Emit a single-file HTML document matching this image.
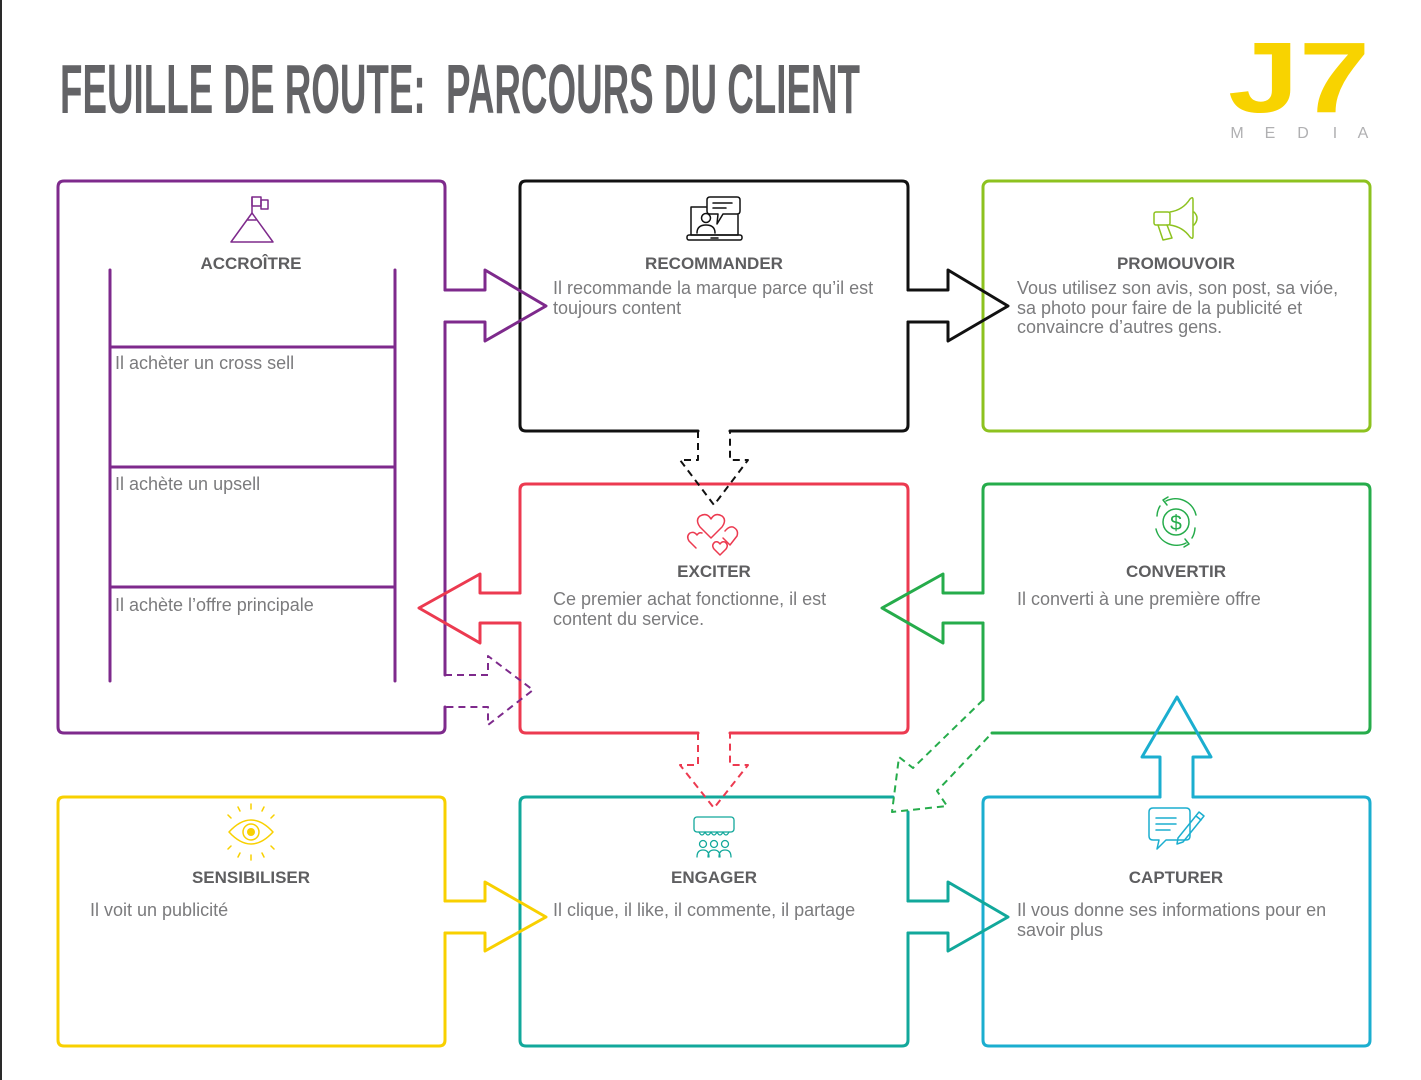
<!DOCTYPE html>
<html><head><meta charset="utf-8">
<style>
html,body{margin:0;padding:0;background:#fff;}
svg{display:block;}
text{font-family:"Liberation Sans",Arial,sans-serif;}
.h{font-weight:bold;font-size:17px;fill:#5e5e60;text-anchor:middle;}
.b{font-size:18px;fill:#7b7b7d;}
</style></head>
<body>
<svg width="1421" height="1080" viewBox="0 0 1421 1080" xmlns="http://www.w3.org/2000/svg">
<rect x="0" y="0" width="1421" height="1080" fill="#fff"/>
<rect x="0" y="0" width="2" height="1080" fill="#2a2a2a"/>

<!-- Title -->
<text x="60" y="113" font-size="70" font-weight="bold" fill="#636366" xml:space="preserve" style="white-space:pre" textLength="800" lengthAdjust="spacingAndGlyphs">FEUILLE DE ROUTE:  PARCOURS DU CLIENT</text>

<!-- Logo -->
<text x="1228" y="112" font-size="100" font-weight="bold" fill="#F8D300" textLength="142" lengthAdjust="spacingAndGlyphs">J7</text>
<g font-size="16" fill="#b0b0b2" text-anchor="middle">
<text x="1237" y="138">M</text>
<text x="1270" y="138">E</text>
<text x="1303" y="138">D</text>
<text x="1335" y="138">I</text>
<text x="1363" y="138">A</text>
</g>

<g fill="none" stroke-width="3" stroke-linejoin="round" stroke-linecap="round">
<!-- Boxes -->
<path stroke="#7E2A8C" d="M445,290 V187 Q445,181 439,181 H64 Q58,181 58,187 V727 Q58,733 64,733 H439 Q445,733 445,727 V707 M445,675 V322"/>
<path stroke="#111" d="M908,290 V187 Q908,181 902,181 H526 Q520,181 520,187 V425 Q520,431 526,431 H698 M730,431 H902 Q908,431 908,425 V322"/>
<rect stroke="#8DC21F" x="983" y="181" width="387" height="250" rx="6"/>
<path stroke="#EC3A50" d="M520,593 V490 Q520,484 526,484 H902 Q908,484 908,490 V727 Q908,733 902,733 H730 M698,733 H526 Q520,733 520,727 V623"/>
<path stroke="#26AC4B" d="M983,593 V490 Q983,484 989,484 H1364 Q1370,484 1370,490 V727 Q1370,733 1364,733 H992 M983,700 V623"/>
<path stroke="#F8D000" d="M445,901 V803 Q445,797 439,797 H64 Q58,797 58,803 V1040 Q58,1046 64,1046 H439 Q445,1046 445,1040 V933"/>
<path stroke="#12A89B" d="M893,797 H526 Q520,797 520,803 V1040 Q520,1046 526,1046 H902 Q908,1046 908,1040 V933 M908,901 V812"/>
<path stroke="#1BAECF" d="M1160,797 H989 Q983,797 983,803 V1040 Q983,1046 989,1046 H1364 Q1370,1046 1370,1040 V803 Q1370,797 1364,797 H1193"/>

<!-- Ladder -->
<path stroke="#7E2A8C" d="M110,270 V681 M395,270 V681 M110,347 H395 M110,467 H395 M110,587 H395"/>

<!-- Solid arrows -->
<path stroke="#7E2A8C" d="M445,290 H485 V270 L546,306 L485,341 V322 H445"/>
<path stroke="#111" d="M908,290 H948 V270 L1008,306 L948,341 V322 H908"/>
<path stroke="#EC3A50" d="M520,593 H480 V574 L419,608 L480,643 V623 H520"/>
<path stroke="#26AC4B" d="M983,593 H943 V574 L882,608 L943,643 V623 H983"/>
<path stroke="#F8D000" d="M445,901 H485 V882 L546,917 L485,951 V933 H445"/>
<path stroke="#12A89B" d="M908,901 H948 V882 L1008,917 L948,951 V933 H908"/>
<path stroke="#1BAECF" d="M1160,797 V757 H1142 L1177,697 L1211,757 H1193 V797"/>

<!-- Dashed arrows -->
<g stroke-width="2" stroke-dasharray="7 5" stroke-linecap="butt">
<path stroke="#111" d="M698,431 V460 H680 L714,505 L748,460 H730 V431"/>
<path stroke="#7E2A8C" d="M445,675 H488 V656 L533,690 L488,725 V707 H445"/>
<path stroke="#EC3A50" d="M698,733 V765 H680 L714,808 L748,765 H730 V733"/>
<path stroke="#26AC4B" d="M983,700 L913,768 L899,757 L892,812 L947,806 L937,791 L992,733"/>
</g>
</g>

<!-- Icons -->
<g fill="none" stroke-width="1.5" stroke-linejoin="round" stroke-linecap="round">
<!-- mountain -->
<g stroke="#7E2A8C">
<path d="M231,242 L273,242 L252,213 Z"/>
<path d="M248,220 H256"/>
<path d="M252,213 V197"/>
<rect x="252" y="197" width="9" height="9"/>
<rect x="261" y="200" width="7" height="9"/>
</g>
<!-- laptop -->
<g stroke="#111">
<path d="M706,207 H691 V235 H738 V215"/>
<rect x="687" y="235" width="55" height="5" rx="2"/>
<path d="M711,238 H718"/>
<path d="M710,197 H737 Q740,197 740,200 V211 Q740,214 737,214 H723 L717,224 L718,214 H710 Q707,214 707,211 V200 Q707,197 710,197 Z"/>
<path d="M713,203 H732 M713,208 H726"/>
<circle cx="706" cy="218" r="4.5"/>
<path d="M697,233 Q697,225 706,225 Q715,225 715,233"/>
</g>
<!-- megaphone -->
<g stroke="#8DC21F">
<rect x="1154" y="212" width="16" height="13" rx="2"/>
<path d="M1170,212 Q1183,210 1190,199 Q1193,196 1193,200 V236 Q1193,240 1190,237 Q1183,227 1170,225"/>
<path d="M1194,212 Q1200,218 1194,225"/>
<path d="M1158,225 L1163,240 L1172,238 L1167,225"/>
</g>
<!-- hearts -->
<g stroke="#EC3A50">
<path d="M711,538 L700,527 Q695,520 700,516 Q707,512 711,519 Q715,512 722,516 Q727,520 722,527 Z"/>
<path d="M696,548 L689,541 Q686,536 690,533 Q694,531 697,535 Q699,532 702,533"/>
<path d="M730,545 L723,538 M725,531 Q729,526 733,527 Q739,530 737,536 L730,545"/>
<path d="M720,555 L714,549 Q711,545 715,542 Q718,541 720,544 Q722,541 725,542 Q729,545 726,549 Z"/>
</g>
<!-- dollar -->
<g stroke="#26AC4B">
<circle cx="1176" cy="522" r="13"/>
<path d="M1166,501 A21,21 0 0 1 1196,515"/>
<path d="M1186,543 A21,21 0 0 1 1156,529"/>
<path d="M1163,500 L1168,497 M1163,500 L1167,505"/>
<path d="M1189,544 L1184,547 M1189,544 L1185,539"/>
<path d="M1160,506 A21,21 0 0 0 1157,516"/>
<path d="M1192,538 A21,21 0 0 0 1195,528"/>
</g>
<text x="1176" y="530" font-size="21" fill="#26AC4B" text-anchor="middle">$</text>
<!-- eye -->
<g stroke="#F8D000">
<path d="M229,832 Q251,808 273,832 Q251,856 229,832 Z"/>
<circle cx="251" cy="832" r="8"/>
<path d="M251,809 V804 M251,855 V860 M240,811 L238,807 M262,811 L264,807 M240,853 L238,857 M262,853 L264,857 M231,818 L228,815 M271,818 L274,815 M231,846 L228,849 M271,846 L274,849"/>
</g>
<circle cx="251" cy="832" r="4" fill="#F8D000"/>
<!-- engage -->
<g stroke="#12A89B" stroke-width="1.3">
<rect x="694" y="817" width="40" height="15" rx="3"/>
<path d="M699,832 Q702,838 705,832 Q708,838 711,832 Q714,838 717,832 Q720,838 723,832 Q726,838 729,832"/>
<circle cx="703" cy="844" r="3.5"/><circle cx="714" cy="844" r="3.5"/><circle cx="725" cy="844" r="3.5"/>
<path d="M697,857 Q697,850 703,850 Q709,850 709,857 M708,857 Q708,850 714,850 Q720,850 720,857 M719,857 Q719,850 725,850 Q731,850 731,857"/>
</g>
<!-- capture -->
<g stroke="#1BAECF">
<path d="M1153,808 H1186 Q1190,808 1190,812 V836 Q1190,840 1186,840 H1166 L1157,849 L1159,840 H1153 Q1149,840 1149,836 V812 Q1149,808 1153,808 Z"/>
<path d="M1156,818 H1176 M1156,824 H1176 M1156,830 H1170"/>
<path d="M1178,838 L1199,812 L1204,816 L1183,842 L1177,844 Z"/>
<path d="M1196,816 L1201,820"/>
</g>
</g>

<!-- Headings -->
<text class="h" x="251" y="269">ACCROÎTRE</text>
<text class="h" x="714" y="269">RECOMMANDER</text>
<text class="h" x="1176" y="269">PROMOUVOIR</text>
<text class="h" x="714" y="577">EXCITER</text>
<text class="h" x="1176" y="577">CONVERTIR</text>
<text class="h" x="251" y="883">SENSIBILISER</text>
<text class="h" x="714" y="883">ENGAGER</text>
<text class="h" x="1176" y="883">CAPTURER</text>

<!-- Body -->
<text class="b" x="553" y="294">Il recommande la marque parce qu’il est</text>
<text class="b" x="553" y="314">toujours content</text>
<text class="b" x="1017" y="294">Vous utilisez son avis, son post, sa vióe,</text>
<text class="b" x="1017" y="314">sa photo pour faire de la publicité et</text>
<text class="b" x="1017" y="333">convaincre d’autres gens.</text>
<text class="b" x="115" y="369">Il achèter un cross sell</text>
<text class="b" x="115" y="490">Il achète un upsell</text>
<text class="b" x="115" y="611">Il achète l’offre principale</text>
<text class="b" x="553" y="605">Ce premier achat fonctionne, il est</text>
<text class="b" x="553" y="625">content du service.</text>
<text class="b" x="1017" y="605">Il converti à une première offre</text>
<text class="b" x="90" y="916">Il voit un publicité</text>
<text class="b" x="553" y="916">Il clique, il like, il commente, il partage</text>
<text class="b" x="1017" y="916">Il vous donne ses informations pour en</text>
<text class="b" x="1017" y="936">savoir plus</text>
</svg>
</body></html>
